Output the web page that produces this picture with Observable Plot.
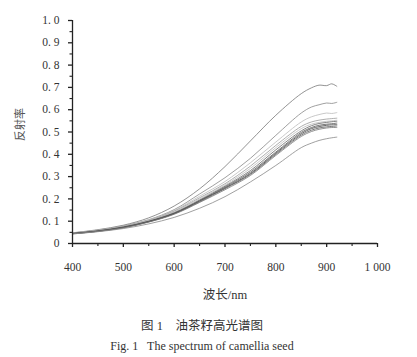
<!DOCTYPE html>
<html><head><meta charset="utf-8">
<script src="https://cdn.jsdelivr.net/npm/d3@7"></script>
<script src="https://cdn.jsdelivr.net/npm/@observablehq/plot@0.6"></script>
<style>
body{margin:0;background:#fff;}
#chart{width:417px;height:312px;}
#cap{width:417px;box-sizing:border-box;padding-right:13px;text-align:center;color:#333;font-family:"Liberation Serif","Noto Sans CJK SC",serif;white-space:pre;}
#cap .zh{margin-top:4px;line-height:20px;font-size:12.5px;}
#cap .en{line-height:20px;font-size:12px;}
</style>
</head><body>
<div id="chart"></div>
<div id="cap"><div class="zh">图 1　油茶籽高光谱图</div><div class="en">Fig. 1   The spectrum of camellia seed</div></div>
<script>
const wavelengths = [400,450,500,550,600,650,700,750,800,850,870,885,900,910,920];
const sA  = [.048,.062,.082,.115,.168,.245,.345,.460,.575,.672,.698,.710,.708,.716,.705];
const sB  = [.047,.060,.079,.107,.152,.222,.295,.382,.485,.585,.612,.622,.630,.628,.633];
const sC  = [.047,.060,.078,.105,.148,.212,.278,.362,.455,.545,.568,.578,.585,.583,.587];
const sD  = [.046,.059,.077,.103,.145,.205,.268,.347,.440,.525,.545,.553,.558,.560,.562];
const sG  = [.046,.058,.076,.102,.142,.200,.262,.337,.430,.515,.535,.543,.548,.550,.553];
const sE1 = [.045,.057,.074,.100,.138,.195,.257,.327,.420,.505,.528,.538,.543,.546,.548];
const sE2 = [.045,.056,.073,.099,.136,.192,.253,.320,.410,.498,.520,.530,.535,.537,.540];
const sE3 = [.044,.055,.072,.098,.134,.190,.249,.314,.405,.492,.515,.524,.530,.532,.533];
const sE4 = [.044,.055,.071,.097,.133,.187,.246,.310,.400,.486,.508,.518,.523,.525,.527];
const sE5 = [.043,.054,.070,.096,.131,.184,.241,.305,.395,.480,.502,.512,.518,.520,.520];
const sF  = [.043,.053,.067,.088,.117,.158,.210,.276,.350,.430,.450,.462,.470,.474,.477];
const seriesNames = ["A","B","C","D","G","E1","E2","E3","E4","E5","F"];
const seriesValues = [sA,sB,sC,sD,sG,sE1,sE2,sE3,sE4,sE5,sF];
const seriesColors = ["#777","#888","#bbb","#999","#bbb","#666","#555","#444","#555","#777","#888"];
const yTicks = [0,0.1,0.2,0.3,0.4,0.5,0.6,0.7,0.8,0.9,1.0];
const yMinor = [0.05,0.15,0.25,0.35,0.45,0.55,0.65,0.75,0.85,0.95];
const xTicks = [400,500,600,700,800,900,1000];
const xMinor = [450,550,650,750,850,950];
const xTickLabels = ["400","500","600","700","800","900","1 000"];

const rows = [];
seriesNames.forEach((name, i) => {
  wavelengths.forEach((w, j) => rows.push({series: name, wl: w, r: seriesValues[i][j]}));
});

const fmtY = d => d === 0 ? "0" : d.toFixed(1).replace(".", ". ");
const fmtX = d => xTickLabels[xTicks.indexOf(d)];

const chart = Plot.plot({
  width: 417, height: 312,
  marginLeft: 72, marginRight: 40, marginTop: 20, marginBottom: 69,
  x: {domain: [400, 1000]},
  y: {domain: [0, 1]},
  color: {domain: seriesNames, range: seriesColors},
  style: {fontFamily: '"Liberation Serif","DejaVu Serif",serif', fontSize: "11.5px", color: "#333", background: "#fff"},
  marks: [
    Plot.line(rows, {x: "wl", y: "r", z: "series", stroke: "series", strokeWidth: 0.8, curve: "catmull-rom"}),
    Plot.ruleX([400], {y1: 0, y2: 1, stroke: "#222", strokeWidth: 1.3}),
    Plot.ruleY([0], {x1: 400, x2: 1000, stroke: "#222", strokeWidth: 1.3}),
    Plot.axisY(yTicks, {tickSize: 4, tickPadding: 9, tickFormat: fmtY, label: null, stroke: "#222", strokeWidth: 1.3}),
    Plot.axisY(yMinor, {tickSize: 2.5, tickFormat: () => "", label: null, stroke: "#222", strokeWidth: 1.1}),
    Plot.axisX(xTicks, {tickSize: 4, tickPadding: 15, tickFormat: fmtX, label: null, stroke: "#222", strokeWidth: 1.3}),
    Plot.axisX(xMinor, {tickSize: 3, tickFormat: () => "", label: null, stroke: "#222", strokeWidth: 1.1}),
    Plot.text(["反射率"], {text: d => d, frameAnchor: "left", rotate: -90, dx: -52, dy: 9, fontSize: 11, fill: "#555", fontFamily: '"Noto Sans CJK SC",sans-serif'}),
    Plot.text(["波长/nm"], {text: d => d, frameAnchor: "bottom", dy: 55, fontSize: 12.5, fill: "#333", fontFamily: '"Liberation Serif","Noto Sans CJK SC",serif'})
  ]
});
document.getElementById("chart").appendChild(chart);
</script>
</body></html>
